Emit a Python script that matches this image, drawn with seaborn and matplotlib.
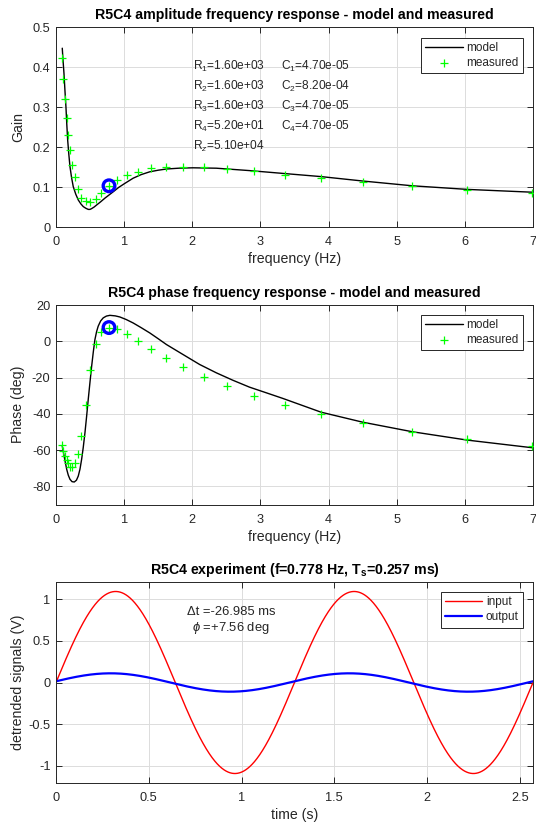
import numpy as np
import pandas as pd
import matplotlib
matplotlib.use("Agg")
import matplotlib.pyplot as plt
import seaborn as sns

# ---- measured frequency response ----
meas_freq = [0.092, 0.107, 0.132, 0.157, 0.180, 0.205, 0.239, 0.278, 0.318, 0.366,
             0.435, 0.498, 0.586, 0.659, 0.778, 0.893, 1.044, 1.205, 1.391, 1.621,
             1.868, 2.167, 2.508, 2.903, 3.357, 3.890, 4.510, 5.217, 6.037, 6.988]
meas_gain = [0.422, 0.369, 0.321, 0.272, 0.231, 0.192, 0.156, 0.124, 0.096, 0.072,
             0.064, 0.062, 0.071, 0.085, 0.103, 0.117, 0.130, 0.138, 0.147, 0.151,
             0.151, 0.149, 0.144, 0.139, 0.131, 0.122, 0.112, 0.102, 0.093, 0.084]
meas_phase = [-57.4, -60.5, -63.3, -65.5, -67.3, -69.1, -69.1, -67.3, -62.4, -52.3,
              -35.4, -15.6, -1.3, 5.2, 7.56, 6.6, 4.0, 0.4, -4.2, -9.2,
              -14.1, -19.6, -24.8, -29.9, -35.4, -40.3, -45.3, -49.9, -54.1, -57.8]

# ---- model curves ----
model_gain_freq = [0.092, 0.104, 0.117, 0.131, 0.146, 0.158, 0.171, 0.188, 0.205, 0.228,
                   0.253, 0.290, 0.327, 0.364, 0.400, 0.436, 0.473, 0.498, 0.523, 0.560,
                   0.596, 0.655, 0.717, 0.778, 0.839, 0.920, 1.010, 1.132, 1.250, 1.376,
                   1.500, 1.621, 1.800, 2.010, 2.353, 2.840, 3.328, 3.890, 4.499, 5.231,
                   6.037, 6.988]
model_gain = [0.447, 0.415, 0.384, 0.342, 0.300, 0.258, 0.218, 0.182, 0.151, 0.124,
              0.101, 0.082, 0.0675, 0.058, 0.051, 0.047, 0.044, 0.044, 0.046, 0.050,
              0.055, 0.063, 0.072, 0.080, 0.088, 0.099, 0.109, 0.122, 0.131, 0.138,
              0.142, 0.145, 0.147, 0.148, 0.147, 0.141, 0.134, 0.126, 0.115, 0.103,
              0.094, 0.087]

model_phase_freq = [0.092, 0.125, 0.157, 0.180, 0.205, 0.235, 0.268, 0.300, 0.327, 0.352,
                    0.376, 0.400, 0.425, 0.449, 0.473, 0.498, 0.523, 0.547, 0.571, 0.595,
                    0.619, 0.655, 0.693, 0.740, 0.791, 0.870, 0.937, 1.030, 1.132, 1.250,
                    1.376, 1.500, 1.621, 1.864, 2.108, 2.353, 2.596, 2.840, 3.085, 3.328,
                    3.890, 4.499, 5.231, 6.037, 6.988]
model_phase = [-57.8, -64.5, -70.6, -73.8, -76.1, -77.4, -77.6, -76.6, -74.3, -70.5,
               -65.1, -58.5, -50.4, -41.5, -32.1, -22.8, -13.8, -6.0, 0.9, 5.2,
               8.3, 11.2, 12.9, 13.9, 14.3, 14.0, 13.4, 12.0, 10.1, 7.5,
               4.6, 1.4, -1.8, -7.3, -12.8, -17.4, -21.5, -25.3, -28.4, -31.5,
               -39.1, -44.6, -49.9, -54.5, -58.7]

# operating point of the experiment below
test_freq = 0.778
test_gain = 0.103
test_phase = 7.56

# ---- time-domain experiment ----
sample_period_ms = 0.257
input_amp = 1.09
output_amp = 0.11
phase_deg = 7.56
delta_t_ms = -26.985
n_periods = 2

t = np.arange(0, n_periods / test_freq, sample_period_ms / 1000.0)
sig_in = input_amp * np.sin(2 * np.pi * test_freq * t)
sig_out = output_amp * np.sin(2 * np.pi * test_freq * t + np.deg2rad(phase_deg))

param_lines = [("R$_1$=1.60e+03", "C$_1$=4.70e-05"),
               ("R$_2$=1.60e+03", "C$_2$=8.20e-04"),
               ("R$_3$=1.60e+03", "C$_3$=4.70e-05"),
               ("R$_4$=5.20e+01", "C$_4$=4.70e-05"),
               ("R$_z$=5.10e+04", "")]

# ---- styling ----
sns.set_theme(style="whitegrid")
AX_COL = "#262626"
TITLE_SIZE = 10.2
LABEL_SIZE = 10.2
TICK_SIZE = 9.2
plt.rcParams.update({
    "font.family": ["Liberation Sans", "DejaVu Sans"],
    "mathtext.fontset": "custom",
    "mathtext.rm": "Liberation Sans",
    "mathtext.it": "Liberation Sans:italic",
    "mathtext.bf": "Liberation Sans:bold",
    "axes.unicode_minus": False,
    "axes.edgecolor": AX_COL,
    "axes.linewidth": 0.7,
    "grid.color": "#dcdcdc",
    "grid.linewidth": 0.7,
    "xtick.color": AX_COL,
    "ytick.color": AX_COL,
    "xtick.labelsize": TICK_SIZE,
    "ytick.labelsize": TICK_SIZE,
    "axes.labelcolor": AX_COL,
    "axes.labelsize": LABEL_SIZE,
    "axes.facecolor": "white",
})

fig = plt.figure(figsize=(5.36, 8.25), dpi=100)
W, H = 536.0, 825.0
left, right = 56, 533


def make_axes(top, bottom):
    return fig.add_axes([left / W, 1 - bottom / H, (right - left) / W, (bottom - top) / H])


def style_axes(ax):
    ax.tick_params(direction="in", length=4, width=0.7, top=True, right=True,
                   bottom=True, left=True)
    ax.tick_params(axis="x", pad=6.5)
    ax.tick_params(axis="y", pad=4)
    for s in ax.spines.values():
        s.set_visible(True)
        s.set_color(AX_COL)
        s.set_linewidth(0.7)
    ax.grid(True)
    ax.set_axisbelow(True)


def style_legend(ax, loc_xy):
    leg = ax.legend(loc="upper right", bbox_to_anchor=loc_xy, frameon=True,
                    fancybox=False, framealpha=1, edgecolor=AX_COL, fontsize=8.5,
                    handlelength=3.2, borderpad=0.35, labelspacing=0.25,
                    handletextpad=0.3, borderaxespad=0)
    leg.get_frame().set_linewidth(0.7)
    for txt in leg.get_texts():
        txt.set_color(AX_COL)
    return leg


def fmt(v, _):
    return f"{v:g}"


def label_axes(ax, xlabel, ylabel, title):
    ax.set_xlabel(xlabel)
    ax.set_ylabel(ylabel)
    ax.xaxis.set_label_coords(0.5, -25.0 / ax.bbox.height)
    ax.yaxis.set_label_coords(-31.0 / ax.bbox.width, 0.5)
    ax.set_title(title, fontsize=TITLE_SIZE, fontweight="bold", pad=6, color="black")


# ---- amplitude ----
ax1 = make_axes(27, 227)
style_axes(ax1)
sns.lineplot(x=model_gain_freq, y=model_gain, color="black", linewidth=1.0,
             estimator=None, ax=ax1, label="model", zorder=2)
sns.scatterplot(x=meas_freq, y=meas_gain, marker="+", color="#00ff00", s=30,
                linewidth=0.9, ax=ax1, label="measured", zorder=3)
ax1.scatter([test_freq], [test_gain], s=70, facecolors="none", edgecolors="#0000ff",
            linewidths=2.4, zorder=4)
ax1.set_xlim(0, 7)
ax1.set_ylim(0, 0.5)
ax1.set_xticks(range(0, 8))
ax1.set_yticks([0, 0.1, 0.2, 0.3, 0.4, 0.5])
ax1.yaxis.set_major_formatter(matplotlib.ticker.FuncFormatter(fmt))
label_axes(ax1, "frequency (Hz)", "Gain",
           "R5C4 amplitude frequency response - model and measured")
style_legend(ax1, (0.979, 0.947))
for i, (rtxt, ctxt) in enumerate(param_lines):
    y = 0.805 - 0.1 * i
    ax1.text(0.2866, y, rtxt, transform=ax1.transAxes, fontsize=8.6, va="center",
             color=AX_COL)
    if ctxt:
        ax1.text(0.471, y, ctxt, transform=ax1.transAxes, fontsize=8.6, va="center",
                 color=AX_COL)

# ---- phase ----
ax2 = make_axes(305, 504.5)
style_axes(ax2)
sns.lineplot(x=model_phase_freq, y=model_phase, color="black", linewidth=1.0,
             estimator=None, ax=ax2, label="model", zorder=2)
sns.scatterplot(x=meas_freq, y=meas_phase, marker="+", color="#00ff00", s=30,
                linewidth=0.9, ax=ax2, label="measured", zorder=3)
ax2.scatter([test_freq], [test_phase], s=70, facecolors="none", edgecolors="#0000ff",
            linewidths=2.4, zorder=4)
ax2.set_xlim(0, 7)
ax2.set_ylim(-90, 20)
ax2.set_xticks(range(0, 8))
ax2.set_yticks([-80, -60, -40, -20, 0, 20])
label_axes(ax2, "frequency (Hz)", "Phase (deg)",
           "R5C4 phase frequency response - model and measured")
style_legend(ax2, (0.979, 0.952))

# ---- time signals ----
ax3 = make_axes(582.3, 782.7)
style_axes(ax3)
sig_df = pd.DataFrame({"t": t, "input": sig_in, "output": sig_out})
sns.lineplot(data=sig_df, x="t", y="input", color="#ff0000", linewidth=1.0,
             estimator=None, ax=ax3, label="input")
sns.lineplot(data=sig_df, x="t", y="output", color="#0000ff", linewidth=1.6,
             estimator=None, ax=ax3, label="output")
ax3.set_xlim(0, n_periods / test_freq)
ax3.set_ylim(-1.2, 1.2)
ax3.set_xticks([0, 0.5, 1, 1.5, 2, 2.5])
ax3.set_yticks([-1, -0.5, 0, 0.5, 1])
ax3.xaxis.set_major_formatter(matplotlib.ticker.FuncFormatter(fmt))
ax3.yaxis.set_major_formatter(matplotlib.ticker.FuncFormatter(fmt))
label_axes(ax3, "time (s)", "detrended signals (V)",
           f"R5C4 experiment (f={test_freq:.3f} Hz, T$_\\mathbf{{s}}$={sample_period_ms:.3f} ms)")
style_legend(ax3, (0.979, 0.95))
ax3.text(0.367, 0.853, f"\u0394t ={delta_t_ms:.3f} ms", transform=ax3.transAxes,
         fontsize=9.4, ha="center", va="center", color=AX_COL)
ax3.text(0.367, 0.772, f"$\\phi$ ={phase_deg:+.2f} deg", transform=ax3.transAxes,
         fontsize=9.4, ha="center", va="center", color=AX_COL)

fig.savefig("out.png", dpi=100, facecolor="white")
